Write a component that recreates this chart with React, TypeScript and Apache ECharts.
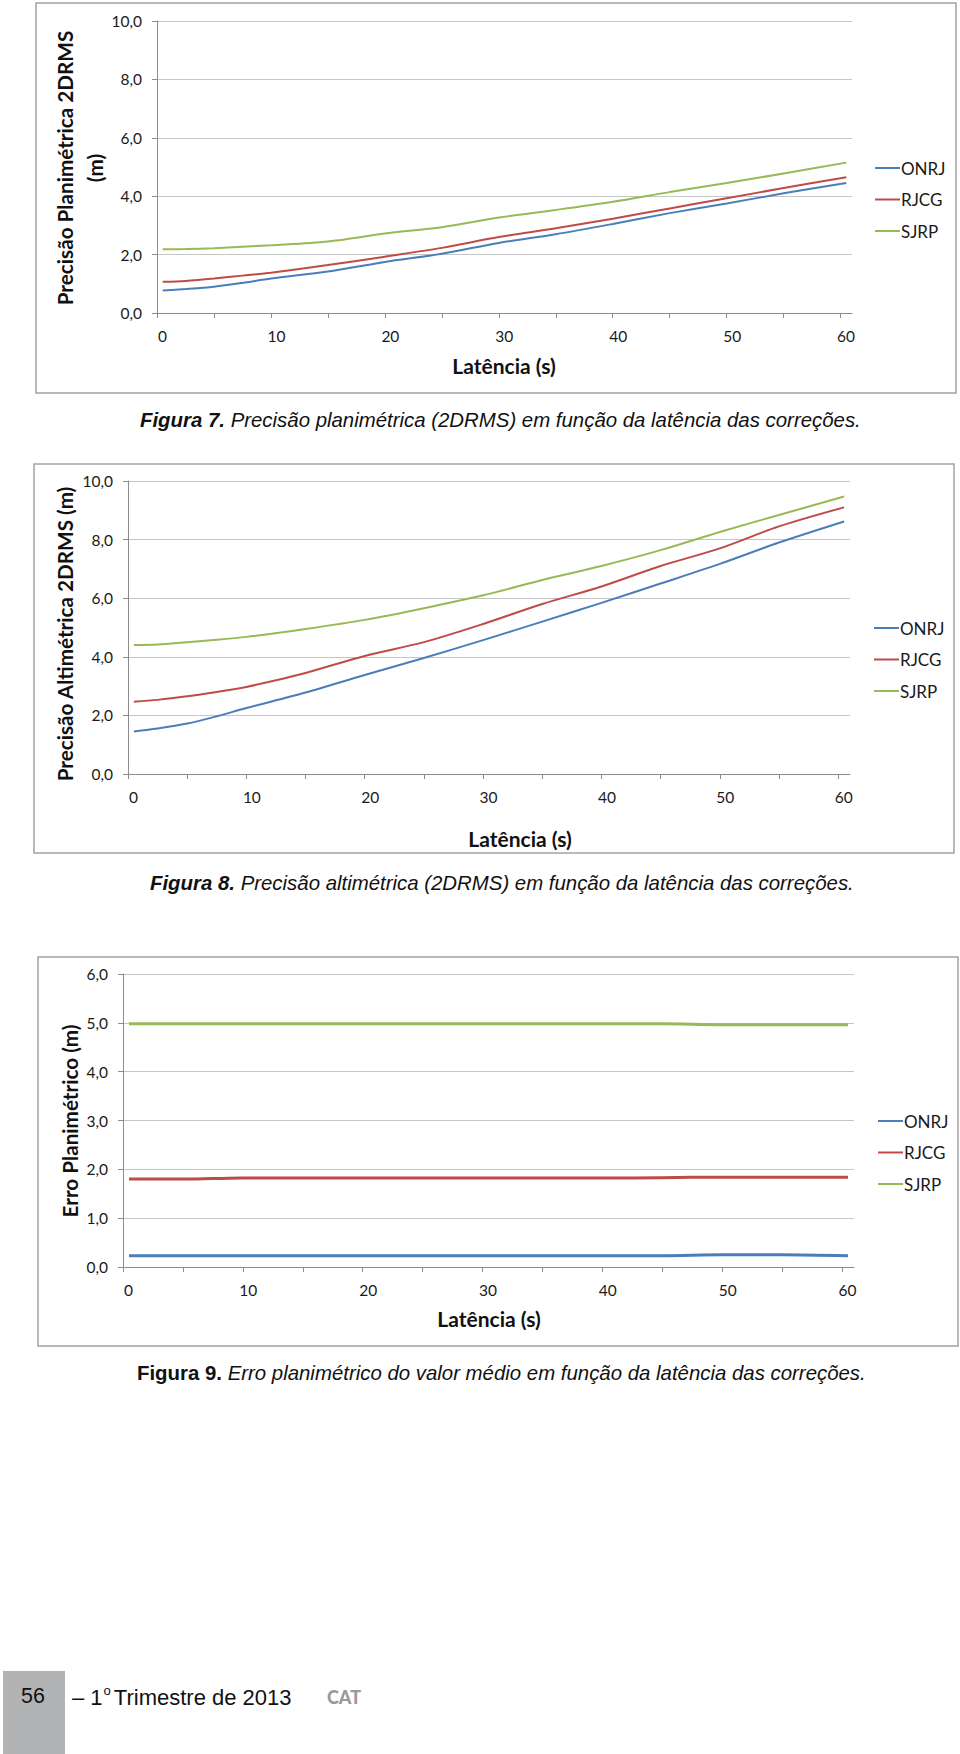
import React, { useEffect, useRef } from "react";
import * as echarts from "echarts";

// ---------- DATA ----------
const stations = ["ONRJ", "RJCG", "SJRP"];
const latency = [0.5, 2.5, 5, 7.5, 10, 15, 20, 25, 30, 35, 40, 45, 50, 55, 60.5];

// Figura 7 – Precisão planimétrica (2DRMS)
const fig7ONRJ = [0.77, 0.82, 0.9, 1.03, 1.18, 1.42, 1.75, 2.03, 2.4, 2.7, 3.05, 3.42, 3.75, 4.1, 4.45];
const fig7RJCG = [1.07, 1.1, 1.18, 1.28, 1.38, 1.64, 1.93, 2.23, 2.6, 2.9, 3.23, 3.58, 3.93, 4.28, 4.65];
const fig7SJRP = [2.18, 2.19, 2.22, 2.27, 2.32, 2.45, 2.72, 2.94, 3.27, 3.53, 3.81, 4.14, 4.45, 4.78, 5.15];

// Figura 8 – Precisão altimétrica (2DRMS)
const fig8ONRJ = [1.45, 1.55, 1.72, 1.97, 2.25, 2.78, 3.38, 3.96, 4.57, 5.2, 5.84, 6.5, 7.17, 7.9, 8.62];
const fig8RJCG = [2.47, 2.53, 2.65, 2.8, 2.97, 3.45, 4.03, 4.5, 5.12, 5.8, 6.4, 7.1, 7.7, 8.45, 9.1];
const fig8SJRP = [4.4, 4.42, 4.5, 4.58, 4.68, 4.95, 5.26, 5.66, 6.1, 6.62, 7.1, 7.64, 8.26, 8.84, 9.47];

// Figura 9 – Erro planimétrico do valor médio
const fig9ONRJ = [0.23, 0.23, 0.23, 0.23, 0.23, 0.23, 0.23, 0.23, 0.23, 0.23, 0.23, 0.23, 0.25, 0.25, 0.23];
const fig9RJCG = [1.8, 1.8, 1.8, 1.81, 1.82, 1.82, 1.82, 1.82, 1.82, 1.82, 1.82, 1.83, 1.84, 1.84, 1.84];
const fig9SJRP = [4.98, 4.98, 4.98, 4.98, 4.98, 4.98, 4.98, 4.98, 4.98, 4.98, 4.98, 4.98, 4.96, 4.96, 4.96];

const xTicks = [0, 5, 10, 15, 20, 25, 30, 35, 40, 45, 50, 55, 60];
const xLabels = [0, 10, 20, 30, 40, 50, 60];

const colors = ["#4A7EBB", "#BE4B48", "#98B954"];

const yTitles = ["Precisão Planimétrica 2DRMS\n(m)", "Precisão Altimétrica 2DRMS (m)", "Erro Planimétrico (m)"];
const xTitle = "Latência (s)";
const captions = [
  { fig: "Figura 7.", text: " Precisão planimétrica (2DRMS) em função da latência das correções." },
  { fig: "Figura 8.", text: " Precisão altimétrica (2DRMS) em função da latência das correções." },
  { fig: "Figura 9.", text: " Erro planimétrico do valor médio em função da latência das correções." },
];

// ---------- LAYOUT ----------
const grids = [
  { left: 157, top: 21, width: 695, height: 292 },
  { left: 128, top: 481, width: 722, height: 293 },
  { left: 123, top: 974, width: 731, height: 293 },
];
const boxes = [
  { x: 36, y: 3, w: 920, h: 390 },
  { x: 34, y: 464, w: 920, h: 389 },
  { x: 38, y: 957, w: 920, h: 389 },
];
const yMax = [10, 10, 6];
const yInterval = [2, 2, 1];
const legendPos = [
  { left: 870, top: 153 },
  { left: 869, top: 613 },
  { left: 873, top: 1106 },
];
const yTitlePos = [
  { x: 80, y: 168 },
  { x: 65, y: 634 },
  { x: 70, y: 1121 },
];
const xTitlePos = [
  { x: 504, y: 365 },
  { x: 520, y: 838 },
  { x: 489, y: 1318 },
];
const captionPos = [
  { x: 140, y: 420 },
  { x: 150, y: 883 },
  { x: 137, y: 1373 },
];

const AXIS_FONT = "Lato, 'Open Sans', sans-serif";
const CAPTION_FONT = "'Liberation Sans', Arial, sans-serif";

function pairs(vals: number[]) {
  return latency.map((x, i) => [x, vals[i]]);
}

export default function App() {
  const ref = useRef<HTMLDivElement>(null);

  useEffect(() => {
    document.body.style.margin = "0";
    if (!ref.current) return;
    const chart = echarts.init(ref.current, null, { renderer: "svg" });

    const seriesData = [
      [fig7ONRJ, fig7RJCG, fig7SJRP],
      [fig8ONRJ, fig8RJCG, fig8SJRP],
      [fig9ONRJ, fig9RJCG, fig9SJRP],
    ];

    const series: any[] = [];
    seriesData.forEach((group, gi) => {
      group.forEach((vals, si) => {
        series.push({
          type: "line",
          name: stations[si],
          xAxisIndex: gi,
          yAxisIndex: gi,
          data: pairs(vals),
          showSymbol: false,
          symbol: "none",
          smooth: 0.3,
          lineStyle: { color: colors[si], width: gi === 2 ? 3 : 2 },
          itemStyle: { color: colors[si] },
          z: 3,
        });
      });
    });

    const gridLineColor = "#C6C6C6";
    const axisLineColor = "#8C8C8C";

    const xAxis = grids.map((_, gi) => ({
      type: "value",
      gridIndex: gi,
      min: 0,
      max: 61,
      splitLine: { show: false },
      axisLine: { show: true, lineStyle: { color: axisLineColor, width: 1 } },
      axisTick: { show: true, length: 5, customValues: xTicks, lineStyle: { color: axisLineColor } },
      axisLabel: {
        customValues: xLabels,
        margin: 15,
        fontFamily: AXIS_FONT,
        fontSize: 15.5,
        color: "#1a1a1a",
        padding: [0, 0, 0, 11],
        formatter: (v: number) => String(v),
      },
    }));

    const yAxis = grids.map((_, gi) => ({
      type: "value",
      gridIndex: gi,
      min: 0,
      max: yMax[gi],
      interval: yInterval[gi],
      splitLine: { show: true, lineStyle: { color: gridLineColor, width: 1.2 } },
      axisLine: { show: true, lineStyle: { color: axisLineColor, width: 1 } },
      axisTick: { show: true, length: 5, lineStyle: { color: axisLineColor } },
      axisLabel: {
        margin: 15,
        fontFamily: AXIS_FONT,
        fontSize: 15.5,
        color: "#1a1a1a",
        formatter: (v: number) => v.toFixed(1).replace(".", ","),
      },
    }));

    const legend = legendPos.map((p) => ({
      left: p.left,
      top: p.top,
      orient: "vertical",
      data: stations.map((s, si) => ({ name: s, itemStyle: { color: colors[si] } })),
      icon: "rect",
      itemWidth: 25,
      itemHeight: 2,
      itemGap: 11.5,
      selectedMode: false,
      textStyle: { fontFamily: AXIS_FONT, fontSize: 17, color: "#1a1a1a", lineHeight: 20, padding: [0, 0, 0, -4] },
    }));

    const graphic: any[] = [];
    boxes.forEach((b) => {
      graphic.push({
        type: "rect",
        shape: { x: b.x, y: b.y, width: b.w, height: b.h },
        style: { fill: "none", stroke: "#A3A3A3", lineWidth: 1.5 },
        z: 0,
        silent: true,
      });
    });
    yTitles.forEach((t, gi) => {
      graphic.push({
        type: "text",
        x: yTitlePos[gi].x,
        y: yTitlePos[gi].y,
        rotation: Math.PI / 2,
        style: {
          text: t,
          fontFamily: AXIS_FONT,
          fontWeight: "bold",
          fontSize: 20.7,
          lineHeight: 30,
          fill: "#111",
          align: "center",
          verticalAlign: "middle",
        },
        silent: true,
      });
    });
    xTitlePos.forEach((p) => {
      graphic.push({
        type: "text",
        x: p.x,
        y: p.y,
        style: {
          text: xTitle,
          fontFamily: AXIS_FONT,
          fontWeight: "bold",
          fontSize: 21,
          fill: "#111",
          align: "center",
          verticalAlign: "middle",
        },
        silent: true,
      });
    });
    captions.forEach((c, gi) => {
      graphic.push({
        type: "text",
        x: captionPos[gi].x,
        y: captionPos[gi].y,
        style: {
          text: `{b|${c.fig}}{t|${c.text}}`,
          verticalAlign: "middle",
          align: "left",
          rich: {
            b: {
              fontFamily: CAPTION_FONT,
              fontWeight: "bold",
              fontStyle: gi === 2 ? "normal" : "italic",
              fontSize: 20.4,
              fill: "#111",
            },
            t: {
              fontFamily: CAPTION_FONT,
              fontStyle: "italic",
              fontSize: 20.4,
              fill: "#111",
            },
          },
        },
        silent: true,
      });
    });

    // footer
    graphic.push({
      type: "rect",
      shape: { x: 3, y: 1671, width: 62, height: 83 },
      style: { fill: "#B2B3B5" },
      silent: true,
    });
    graphic.push({
      type: "text",
      x: 33,
      y: 1696,
      style: {
        text: "56",
        fontFamily: CAPTION_FONT,
        fontSize: 21.5,
        fill: "#111",
        align: "center",
        verticalAlign: "middle",
      },
      silent: true,
    });
    graphic.push({
      type: "text",
      x: 72,
      y: 1696,
      style: {
        text: "{n|– 1}{s|o}{n|Trimestre de 2013}",
        verticalAlign: "middle",
        rich: {
          n: { fontFamily: CAPTION_FONT, fontSize: 22, fill: "#111", verticalAlign: "bottom", lineHeight: 24 },
          s: { fontFamily: CAPTION_FONT, fontSize: 13, fill: "#111", verticalAlign: "top", lineHeight: 24, padding: [0, 3, 0, 1] },
        },
      },
      silent: true,
    });
    graphic.push({
      type: "text",
      x: 344,
      y: 1697,
      style: {
        text: "CAT",
        fontFamily: AXIS_FONT,
        fontWeight: 900,
        fontSize: 18,
        fill: "#9A9A9A",
        align: "center",
        verticalAlign: "middle",
      },
      silent: true,
    });

    chart.setOption({
      animation: false,
      backgroundColor: "#ffffff",
      grid: grids.map((g) => ({ ...g })),
      xAxis,
      yAxis,
      legend,
      series,
      graphic,
    });

    return () => chart.dispose();
  }, []);

  return (
    <div
      ref={ref}
      style={{ position: "absolute", left: 0, top: 0, width: 960, height: 1754, background: "#fff" }}
    />
  );
}
